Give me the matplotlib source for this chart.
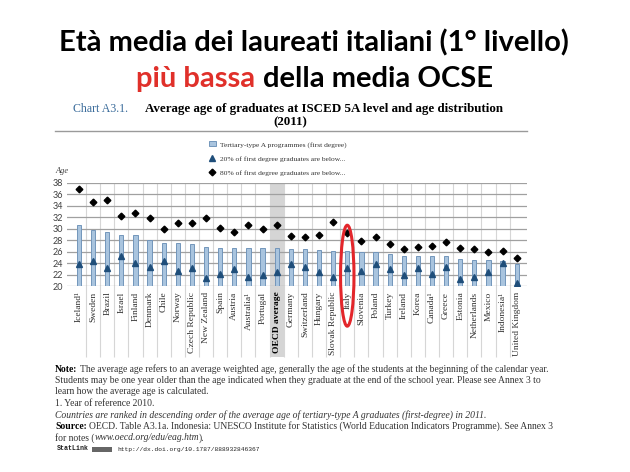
import matplotlib
matplotlib.use("Agg")
import matplotlib.pyplot as plt
from matplotlib.patches import Ellipse, Rectangle
import numpy as np

countries = ["Iceland¹", "Sweden", "Brazil", "Israel", "Finland", "Denmark", "Chile",
             "Norway", "Czech Republic", "New Zealand", "Spain", "Austria", "Australia¹",
             "Portugal", "OECD average", "Germany", "Switzerland", "Hungary",
             "Slovak Republic", "Italy", "Slovenia", "Poland", "Turkey", "Ireland", "Korea",
             "Canada¹", "Greece", "Estonia", "Netherlands", "Mexico", "Indonesia¹",
             "United Kingdom"]
avg_age = [30.6, 29.8, 29.4, 29.0, 29.0, 28.0, 27.6, 27.5, 27.3, 26.9, 26.7, 26.7, 26.6,
           26.6, 26.6, 26.5, 26.4, 26.3, 26.1, 26.1, 26.0, 26.0, 25.6, 25.3, 25.3, 25.3,
           25.3, 24.7, 24.6, 24.5, 24.4, 23.9]
p20 = [23.9, 24.3, 23.2, 25.2, 24.1, 23.3, 24.3, 22.7, 23.1, 21.4, 22.1, 22.9, 21.5, 22.0,
       22.4, 23.8, 23.4, 22.5, 21.6, 23.1, 22.7, 23.8, 22.9, 22.0, 23.1, 22.1, 23.4, 21.3,
       21.6, 22.5, 24.0, 20.6]
p80 = [37.0, 34.7, 35.0, 32.2, 32.8, 31.9, 29.9, 31.0, 31.0, 31.8, 30.1, 29.4, 30.6, 30.0,
       30.6, 28.7, 28.5, 29.0, 31.2, 29.2, 27.9, 28.6, 27.4, 26.4, 26.9, 27.0, 27.7, 26.7,
       26.4, 26.0, 26.1, 24.9]
y_ticks = [20, 22, 24, 26, 28, 30, 32, 34, 36, 38]
y_min = 20
legend_labels = ["Tertiary-type A programmes (first degree)",
                 "20% of first degree graduates are below...",
                 "80% of first degree graduates are below..."]

W, H = 630, 472
fig = plt.figure(figsize=(W / 100, H / 100), dpi=100)
fig.patch.set_facecolor("white")

SERIF = ["Liberation Serif", "DejaVu Serif"]
SANS = ["Lato", "DejaVu Sans"]
MONO = ["Liberation Mono", "DejaVu Sans Mono"]


def fx(px):
    return px / W


def fy(py):
    return 1 - py / H


ax = fig.add_axes([fx(67), fy(286), fx(527) - fx(67), fy(183) - fy(286)])
x = np.arange(len(countries))
heights = np.array(avg_age) - y_min
bars = ax.bar(x, heights, bottom=y_min, width=0.3, color="#a9c4de", edgecolor="#7396bb",
              linewidth=0.7, zorder=3, label=legend_labels[0])
tri, = ax.plot(x, p20, linestyle="none", marker="^", ms=5, color="#1f4e7a", zorder=4,
               label=legend_labels[1])
dia, = ax.plot(x, p80, linestyle="none", marker="D", ms=3.4, color="black", zorder=4,
               label=legend_labels[2])

ax.set_xlim(-0.85, len(countries) - 0.27)
ax.set_ylim(y_ticks[0], y_ticks[-1])
ax.set_yticks(y_ticks)
ax.yaxis.grid(True, color="#a0a0a0", lw=0.9, zorder=1)
ax.set_axisbelow(True)
for s in ax.spines.values():
    s.set_visible(False)
ax.tick_params(axis="both", length=0)
ax.tick_params(axis="y", pad=3, labelsize=6.5, labelcolor="#404040")
for lab in ax.get_yticklabels():
    lab.set_fontfamily(SANS)

ax.set_xticks(x)
ax.set_xticklabels(countries, rotation=90, fontsize=6.8, fontfamily=SERIF, color="#333333",
                   va="top")
ax.tick_params(axis="x", pad=4)
oecd_i = countries.index("OECD average")
ax.get_xticklabels()[oecd_i].set_fontweight("bold")
ax.get_xticklabels()[oecd_i].set_color("black")

trans = ax.get_xaxis_transform()
low = -0.69
ax.vlines(x[:-1] + 0.5, low, 1, transform=trans, colors="#d6d6d6", lw=0.8,
          clip_on=False, zorder=0)
ax.add_patch(Rectangle((oecd_i - 0.5, low), 1, 1 - low, transform=trans,
                       facecolor="#d5d5d5", edgecolor="none", clip_on=False, zorder=0.5))

italy_i = countries.index("Italy")
ax.add_patch(Ellipse((italy_i, 0.10), width=0.95, height=0.98, transform=trans,
                     fill=False, edgecolor="#e3262b", lw=2.2, clip_on=False, zorder=6))

fig.text(fx(55), fy(171), "Age", fontstyle="italic", fontsize=6, fontfamily=SERIF,
         color="#404040", va="center", ha="left")

leg = fig.legend(handles=[bars, tri, dia], loc="upper left",
                 bbox_to_anchor=(fx(209), fy(141)), frameon=False,
                 prop={"family": SERIF, "size": 5.4}, handlelength=0.9,
                 handletextpad=0.6, labelspacing=1.05, borderpad=0, borderaxespad=0)
for t in leg.get_texts():
    t.set_color("#333333")

renderer = fig.canvas.get_renderer()


def text_width(s, **kw):
    t = fig.text(0, 0, s, **kw)
    w = t.get_window_extent(renderer).width
    t.remove()
    return w


def layout_line(x0, y0, segments, common):
    xpos = x0
    for s, kw in segments:
        props = dict(common)
        props.update(kw)
        xx_w = text_width("xx", **props)
        w = text_width("x" + s + "x", **props) - xx_w
        lead = len(s) - len(s.lstrip(" "))
        sp_w = text_width("x x", **props) - xx_w
        core = s.strip(" ")
        if core:
            fig.text(fx(xpos + lead * sp_w), fy(y0), core, ha="left", va="center", **props)
        xpos += w


# main titles
title_font = dict(fontfamily=SANS, fontweight="bold", fontsize=21)
fig.text(fx(314), fy(43), "Età media dei laureati italiani (1° livello)", ha="center",
         va="center", color="black", **title_font)
red_part = "più bassa"
black_part = "della media OCSE"
full = red_part + " " + black_part
wfull = text_width(full, **title_font)
start = 314.5 - wfull / 2
fig.text(fx(start), fy(79), red_part, ha="left", va="center", color="#e0302a", **title_font)
fig.text(fx(start + wfull), fy(79), black_part, ha="right", va="center", color="black",
         **title_font)

# chart title
fig.text(fx(73), fy(109), "Chart A3.1.", ha="left", va="center", color="#3b6c9b",
         fontfamily=SERIF, fontsize=8.6)
fig.text(fx(145), fy(109), "Average age of graduates at ISCED 5A level and age distribution",
         ha="left", va="center", color="black", fontfamily=SERIF, fontsize=9.4,
         fontweight="bold")
fig.text(fx(290), fy(122), "(2011)", ha="center", va="center", fontweight="bold",
         color="black", fontfamily=SERIF, fontsize=9.4)
fig.add_artist(plt.Line2D([fx(55), fx(527)], [fy(131), fy(131)], color="#9a9a9a", lw=1.0))

# notes
nf = dict(fontfamily=SERIF, fontsize=6.95, color="#333333")
b = dict(fontweight="bold", color="black")
r = dict()
it = dict(fontstyle="italic")
ys = [369, 380.5, 392, 403.5, 415, 426.5, 438]
lines = [
    [("Note:", b), (" The average age refers to an average weighted age, generally the age of the students at the beginning of the calendar year.", r)],
    [("Students may be one year older than the age indicated when they graduate at the end of the school year. Please see Annex 3 to", r)],
    [("learn how the average age is calculated.", r)],
    [("1. Year of reference 2010.", r)],
    [("Countries are ranked in descending order of the average age of tertiary-type A graduates (first-degree) in 2011.", it)],
    [("Source:", b), (" OECD. Table A3.1a. Indonesia: UNESCO Institute for Statistics (World Education Indicators Programme). See Annex 3", r)],
    [("for notes (", r), ("www.oecd.org/edu/eag.htm", it), (").", r)],
]
for yy, segs in zip(ys, lines):
    layout_line(55, yy, segs, nf)

mf = dict(fontfamily=MONO, fontsize=4.8, color="#222222")
layout_line(57, 449, [("StatLink", dict(fontweight="bold"))], mf)
fig.add_artist(Rectangle((fx(92), fy(451.5)), fx(20), fy(446.5) - fy(451.5),
                         transform=fig.transFigure, facecolor="#666666", edgecolor="none"))
layout_line(117, 449, [("http://dx.doi.org/10.1787/888932846367", dict(fontsize=4.5))], mf)

fig.savefig("out.png", dpi=100, facecolor="white")
